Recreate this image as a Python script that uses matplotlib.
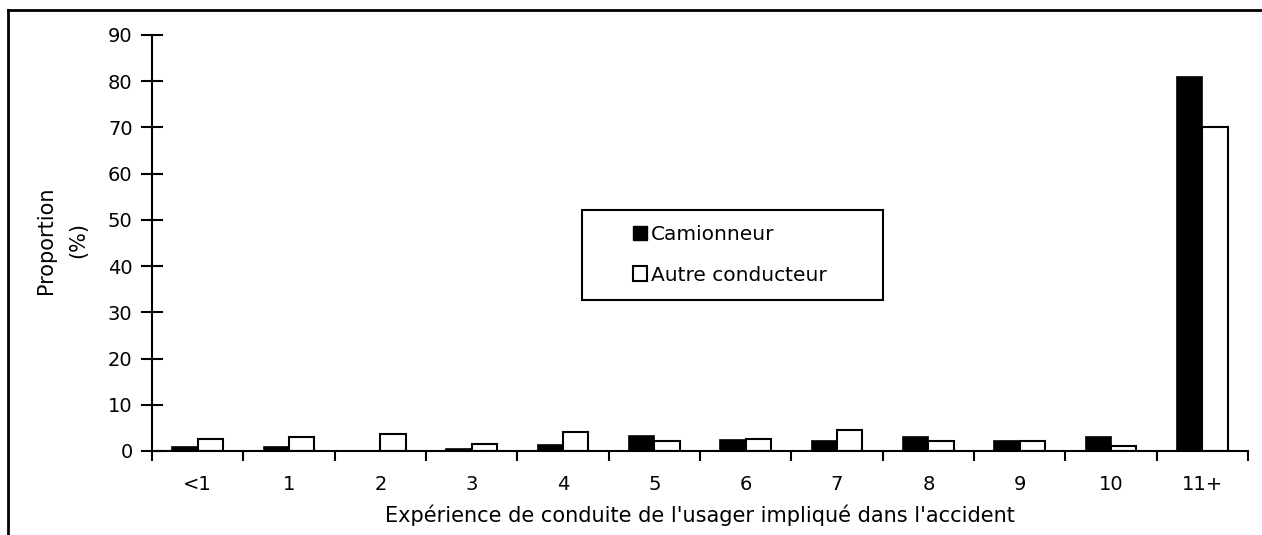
import matplotlib
matplotlib.use("Agg")
import matplotlib.pyplot as plt
from matplotlib.patches import Rectangle, Patch
from matplotlib.lines import Line2D
import numpy as np

categories = ["<1", "1", "2", "3", "4", "5", "6", "7", "8", "9", "10", "11+"]
camionneur = [0.8, 0.8, 0.0, 0.4, 1.3, 3.3, 2.4, 2.1, 3.0, 2.1, 3.0, 81.0]
autre = [2.5, 3.1, 3.6, 1.6, 4.1, 2.1, 2.6, 4.6, 2.1, 2.1, 1.0, 70.2]
series_names = ["Camionneur", "Autre conducteur"]
yticks = [0, 10, 20, 30, 40, 50, 60, 70, 80, 90]

plt.rcParams['font.family'] = ['DejaVu Sans']

W, H = 1262, 535
fig = plt.figure(figsize=(W / 100, H / 100), dpi=100)
ax = fig.add_axes([152 / W, 1 - 451 / H, (1248 - 152) / W, (451 - 35) / H])

x = np.arange(len(categories))
bw = 0.277
ax.bar(x - bw / 2, camionneur, bw, color="black", edgecolor="black", linewidth=1.2)
ax.bar(x + bw / 2, autre, bw, color="white", edgecolor="black", linewidth=1.5)

ax.set_xlim(-0.5, len(categories) - 0.5)
ax.set_ylim(0, 90)
ax.set_yticks(yticks)
ax.tick_params(axis='y', direction='inout', length=16, width=1.5, labelsize=14, pad=6)

ax.set_xticks(np.arange(len(categories) + 1) - 0.5)
ax.set_xticklabels([])
ax.set_xticks(x, minor=True)
ax.set_xticklabels(categories, minor=True)
ax.tick_params(axis='x', which='major', direction='out', length=7, width=1.5)
ax.tick_params(axis='x', which='minor', length=0, labelsize=14, pad=17)

for s in ['top', 'right']:
    ax.spines[s].set_visible(False)
for s in ['left', 'bottom']:
    ax.spines[s].set_linewidth(1.5)

ax.set_xlabel("Expérience de conduite de l'usager impliqué dans l'accident", fontsize=15, labelpad=8)
ax.set_ylabel("Proportion\n(%)", fontsize=15, linespacing=1.75, va='center', ha='center')
ax.yaxis.set_label_coords((62 - 152) / 1096, (451 - 240) / 416)

# legend box
fig.patches.append(Rectangle((582 / W, 1 - 300 / H), (883 - 582) / W, 90 / H,
                             transform=fig.transFigure, fill=False,
                             edgecolor="black", linewidth=1.5))
handles = [Patch(facecolor="black", edgecolor="black", linewidth=1.0),
           Patch(facecolor="white", edgecolor="black", linewidth=1.5)]
leg = fig.legend(handles, series_names, loc='center left',
                 bbox_to_anchor=(623 / W, 1 - 255 / H), frameon=False,
                 fontsize=14.5, handlelength=0.7, handleheight=0.7,
                 handletextpad=0.2, labelspacing=1.05, borderpad=0)

# outer frame (left and top)
fig.add_artist(Line2D([8 / W, 8 / W], [0, 1 - 10 / H], transform=fig.transFigure,
                      color="black", linewidth=2))
fig.add_artist(Line2D([8 / W, 1], [1 - 10 / H, 1 - 10 / H], transform=fig.transFigure,
                      color="black", linewidth=2))

fig.savefig("out.png", dpi=100)
